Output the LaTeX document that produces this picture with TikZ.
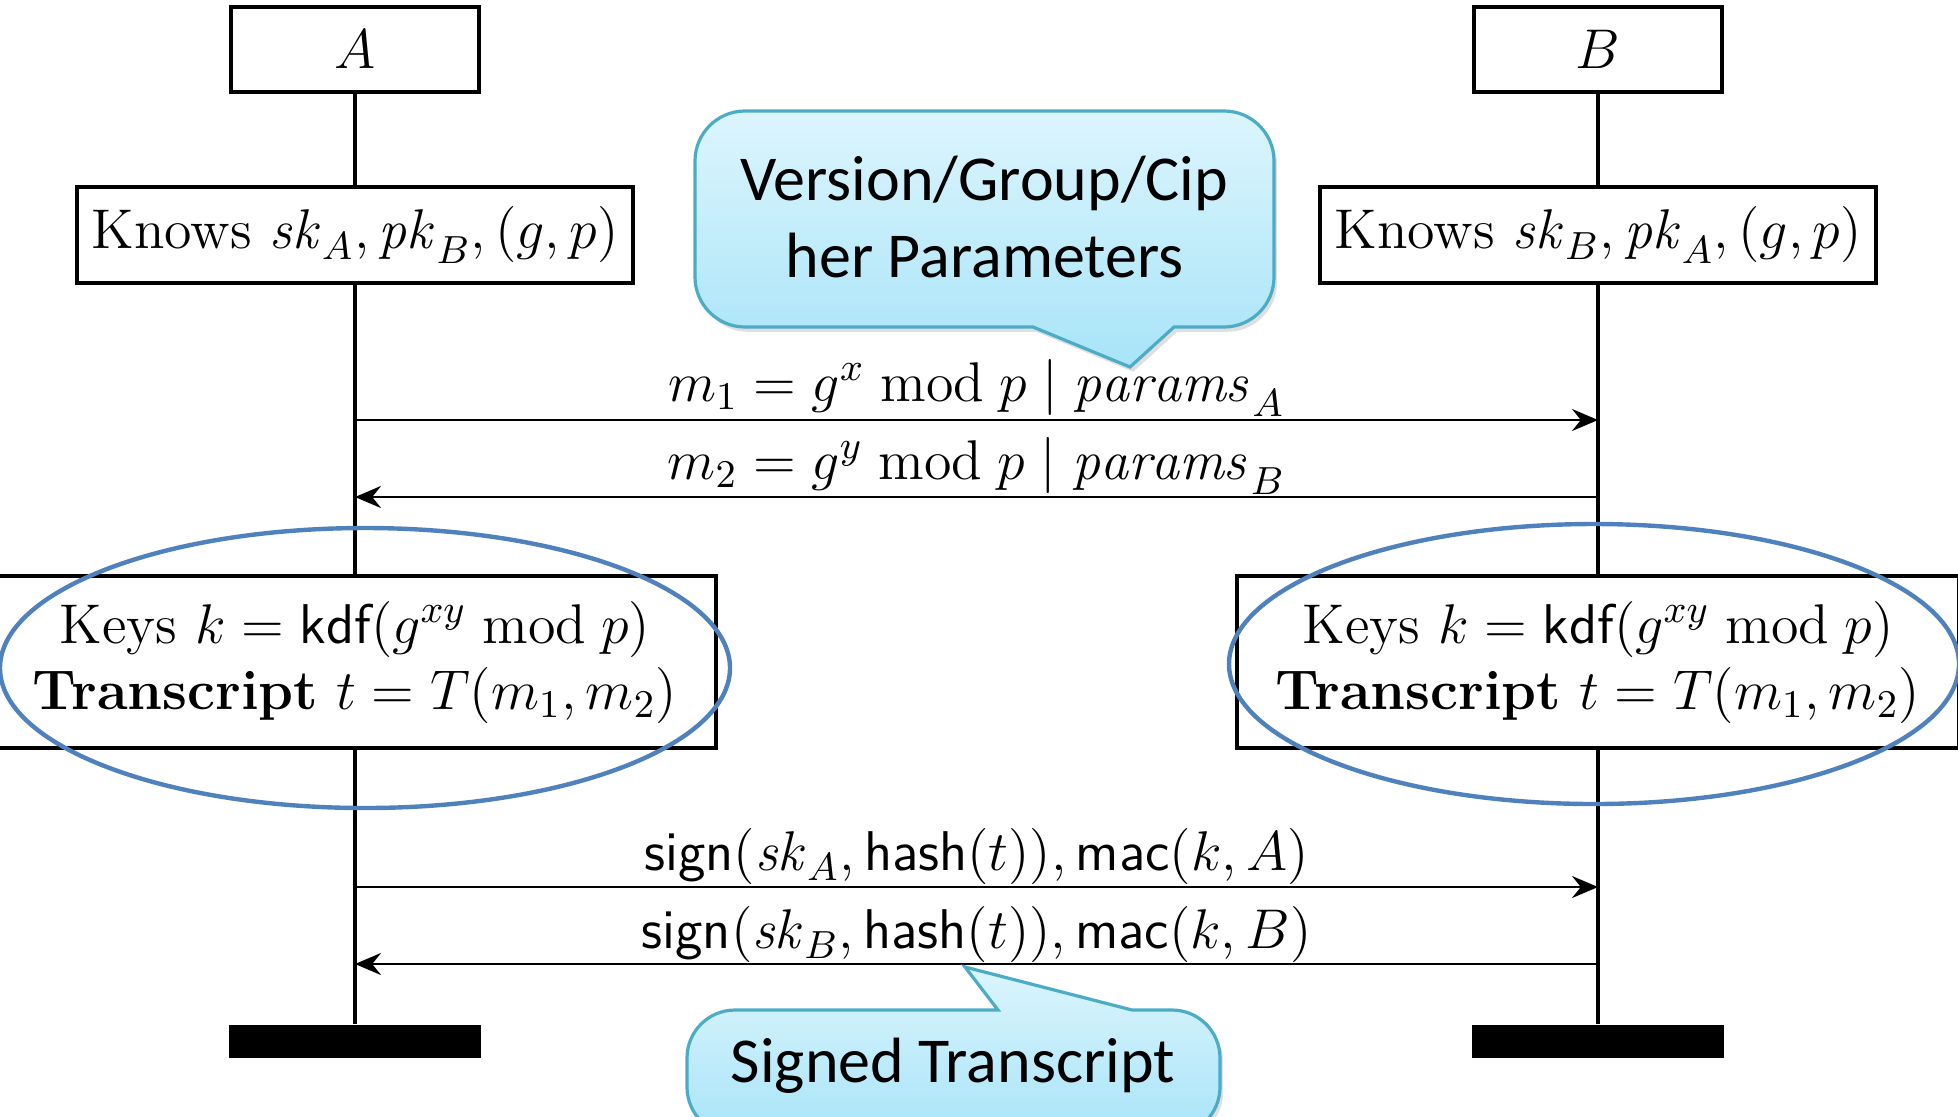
\RequirePackage{fix-cm}
\documentclass[tikz,border=0pt]{standalone}
\usepackage{fontspec}
\newfontfamily\callfont{Carlito}
\usetikzlibrary{arrows.meta,shadows}
\definecolor{ellblue}{HTML}{4F81BD}
\definecolor{callborder}{HTML}{4BACC6}
\definecolor{calltop}{HTML}{DCF5FD}
\definecolor{callbot}{HTML}{A8E4F8}
\newcommand{\dsub}[1]{_{\mkern2mu\raisebox{-0.6pt}{$\scriptstyle #1$}}}
\begin{document}
\begin{tikzpicture}[x=0.25pt,y=-0.25pt,
  every node/.style={font=\fontsize{14}{16.5}\selectfont},
  actor/.style={draw,line width=0.8pt,minimum width=62pt,minimum height=21.25pt,inner sep=0pt,fill=white},
  know/.style={draw,line width=0.8pt,minimum width=139pt,minimum height=24pt,inner sep=0pt,fill=white},
  keys/.style={draw,line width=0.8pt,minimum width=180.5pt,minimum height=43pt,inner sep=0pt,align=center,fill=white},
  endbar/.style={fill=black,minimum width=63pt,minimum height=8.25pt,inner sep=0pt},
  life/.style={line width=0.8pt},
  msg/.style={line width=0.7pt,-{Stealth[length=6.5pt,width=5.5pt,inset=2.2pt]}},
  ring/.style={draw=ellblue,line width=1.1pt},
  callshape/.style={draw=callborder,line width=0.8pt,top color=calltop,bottom color=callbot,
    drop shadow={shadow xshift=0.8pt,shadow yshift=-1.2pt,opacity=0.25}},
  calltext/.style={font=\callfont\fontsize{16}{19.3}\selectfont,align=center,inner sep=0pt},
  lbl/.style={anchor=base,inner sep=0pt}]
\useasboundingbox (0,0) rectangle (1958,1116);

% actors
\node[actor] (A) at (355,49.5) {$A$};
\node[actor] (B) at (1598,49.5) {$B$};
\node[know] (kA) at (355,235) {Knows $\mathit{sk}\dsub{A}, \mathit{pk}\dsub{B}, (g,p)$};
\node[know] (kB) at (1598,235) {Knows $\mathit{sk}\dsub{B}, \mathit{pk}\dsub{A}, (g,p)$};
\node[keys] (yA) at (355,662) {Keys $k = \mathsf{kdf}(g^{xy} \bmod p)$\\ \textbf{Transcript} $t = T(m_1, m_2)$};
\node[keys] (yB) at (1598,662) {Keys $k = \mathsf{kdf}(g^{xy} \bmod p)$\\ \textbf{Transcript} $t = T(m_1, m_2)$};
\node[endbar] (eA) at (355,1041.5) {};
\node[endbar] (eB) at (1598,1041.5) {};

% lifelines
\draw[life] (A) -- (kA);
\draw[life] (kA) -- (yA);
\draw[life] (yA) -- (eA);
\draw[life] (B) -- (kB);
\draw[life] (kB) -- (yB);
\draw[life] (yB) -- (eB);

% messages
\coordinate (a1) at (355,420);  \coordinate (b1) at (1598,420);
\coordinate (a2) at (355,497);  \coordinate (b2) at (1598,497);
\coordinate (a3) at (355,887);  \coordinate (b3) at (1598,887);
\coordinate (a4) at (355,964);  \coordinate (b4) at (1598,964);
\draw[msg] (a1) -- (b1);
\draw[msg] (b2) -- (a2);
\draw[msg] (a3) -- (b3);
\draw[msg] (b4) -- (a4);
\node[lbl] (l1) at (976.5,401) {$m_1 = g^x \bmod p \mid \mathit{params}\dsub{A}$};
\node[lbl] (l2) at (976.5,479) {$m_2 = g^y \bmod p \mid \mathit{params}\dsub{B}$};
\node[lbl] (l3) at (976.5,870) {$\mathsf{sign}(\mathit{sk}\dsub{A}, \mathsf{hash}(t)), \mathsf{mac}(k, A)$};
\node[lbl] (l4) at (976.5,948) {$\mathsf{sign}(\mathit{sk}\dsub{B}, \mathsf{hash}(t)), \mathsf{mac}(k, B)$};

% highlight ellipses
\draw[ring] (365,668) ellipse [x radius=91.25pt, y radius=35pt];
\draw[ring] (1594,664) ellipse [x radius=91.25pt, y radius=35pt];

% callouts
\path[callshape,rounded corners=12.5pt] (900,327) [sharp corners] -- (1033,327) -- (1130,367) -- (1174,327) -- (1200,327)
  [rounded corners=12.5pt] -- (1274,327) -- (1274,111) -- (695,111) -- (695,327) -- cycle;
\node[calltext] (c1) at (984.5,217) {Version/Group/Cip\\her Parameters};

\path[callshape,rounded corners=12pt] (800,1010) [sharp corners] -- (998,1010) -- (965,967) -- (1132,1010) -- (1160,1010)
  [rounded corners=12pt] -- (1220,1010) -- (1220,1135) -- (687,1135) -- (687,1010) -- cycle;
\node[calltext] (c2) at (953,1066) {Signed Transcript};
\end{tikzpicture}
\end{document}
